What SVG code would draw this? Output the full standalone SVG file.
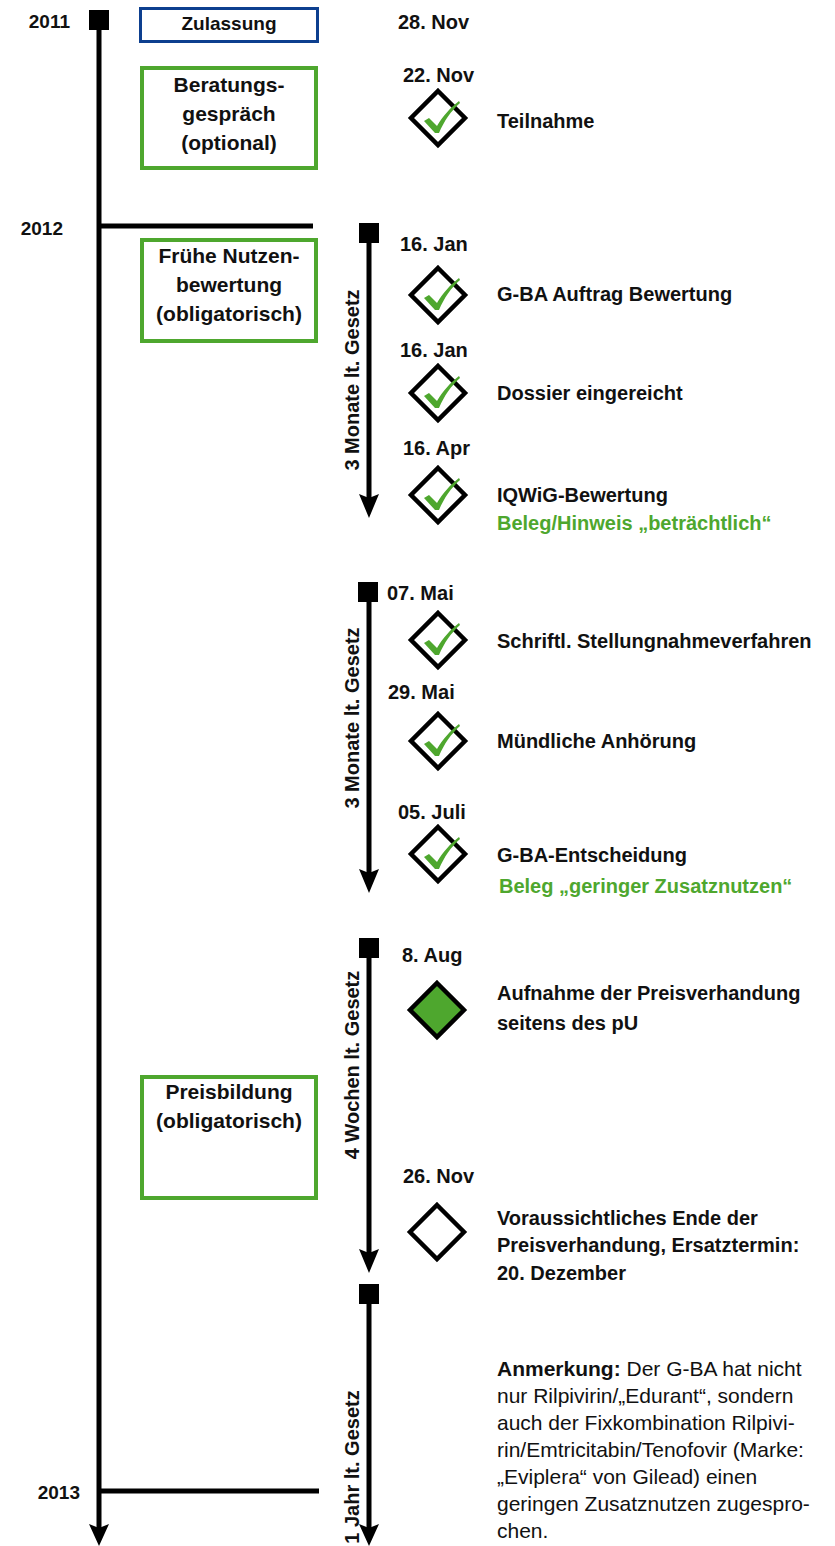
<svg xmlns="http://www.w3.org/2000/svg" xmlns:xlink="http://www.w3.org/1999/xlink" width="835" height="1546" viewBox="0 0 835 1546">
<style>
text{font-family:"Liberation Sans",Arial,sans-serif;fill:#111;}
.b{font-weight:bold;}
.yr{font-size:19px;font-weight:bold;text-anchor:end;}
.box{font-size:21px;font-weight:bold;text-anchor:middle;}
.dt{font-size:20px;font-weight:bold;}
.ds{font-size:20px;font-weight:bold;}
.gr{fill:#4ea72e;}
.rot{font-size:20px;font-weight:bold;text-anchor:middle;}
.note{font-size:21px;}
.ln{stroke:#000;stroke-width:5;fill:none;}
.gbox{fill:#fff;stroke:#4ea72e;stroke-width:4;}
.bbox{fill:#fff;stroke:#0d3f8f;stroke-width:3;}
.dia{fill:#fff;stroke:#000;stroke-width:4.5;}
</style>
<defs>
<g id="diamond"><polygon class="dia" points="0,-27 27,0 0,27 -27,0"/></g>
<g id="check"><path fill="#4ea72e" d="M-14,3 L-9,0 L-1,8 C5,-2 12,-10 21,-17 L22,-15 C13,-7 6,3 1,15 L-3,15 Z"/></g>
</defs>

<g id="connectors">
<rect x="89" y="10" width="20" height="20" fill="#000"/>
<line class="ln" x1="99" y1="20" x2="99" y2="1530"/>
<polygon points="89,1524 99,1528 109,1524 99,1546" fill="#000"/>
<line class="ln" x1="99" y1="226" x2="313" y2="226"/>
<line class="ln" x1="99" y1="1491" x2="319" y2="1491"/>

<rect x="359" y="223" width="20" height="20" fill="#000"/>
<line class="ln" x1="369" y1="233" x2="369" y2="500"/>
<polygon points="359,494 369,498 379,494 369,518" fill="#000"/>

<rect x="358" y="582" width="20" height="20" fill="#000"/>
<line class="ln" x1="369" y1="592" x2="369" y2="876"/>
<polygon points="359,869 369,873 379,869 369,893" fill="#000"/>

<rect x="359" y="938" width="20" height="20" fill="#000"/>
<line class="ln" x1="369" y1="948" x2="369" y2="1256"/>
<polygon points="359,1249 369,1253 379,1249 369,1273" fill="#000"/>

<rect x="359" y="1284" width="20" height="20" fill="#000"/>
<line class="ln" x1="369" y1="1294" x2="369" y2="1530"/>
<polygon points="359,1524 369,1528 379,1524 369,1546" fill="#000"/>
</g>

<g id="years">
<text class="yr" x="70" y="28">2011</text>
<text class="yr" x="63" y="235">2012</text>
<text class="yr" x="80" y="1499">2013</text>
</g>

<g id="zulassung">
<rect class="bbox" x="140.5" y="8.5" width="177" height="33"/>
<text x="229" y="30" style="font-size:19px;font-weight:bold;text-anchor:middle">Zulassung</text>
</g>

<g id="beratung">
<rect class="gbox" x="142" y="68" width="174" height="100"/>
<text class="box" x="229" y="92">Beratungs-</text>
<text class="box" x="229" y="121">gespräch</text>
<text class="box" x="229" y="150">(optional)</text>
</g>

<g id="nutzenbewertung">
<rect class="gbox" x="142" y="240" width="174" height="101"/>
<text class="box" x="229" y="263">Frühe Nutzen-</text>
<text class="box" x="229" y="292">bewertung</text>
<text class="box" x="229" y="321">(obligatorisch)</text>
</g>

<g id="preisbildung">
<rect class="gbox" x="142" y="1077" width="174" height="121"/>
<text class="box" x="229" y="1099">Preisbildung</text>
<text class="box" x="229" y="1128">(obligatorisch)</text>
</g>

<g id="period-labels">
<text class="rot" transform="translate(359,380) rotate(-90)">3 Monate lt. Gesetz</text>
<text class="rot" transform="translate(359,718) rotate(-90)">3 Monate lt. Gesetz</text>
<text class="rot" transform="translate(359,1065) rotate(-90)">4 Wochen lt. Gesetz</text>
<text class="rot" transform="translate(359,1467) rotate(-90)">1 Jahr lt. Gesetz</text>
</g>

<g id="ev-zulassung">
<text class="dt" x="398" y="29">28. Nov</text>
</g>

<g id="ev-teilnahme">
<text class="dt" x="403" y="82">22. Nov</text>
<use xlink:href="#diamond" x="438" y="118"/>
<use xlink:href="#check" x="438" y="118"/>
<text class="ds" x="497" y="128">Teilnahme</text>
</g>

<g id="ev-auftrag">
<text class="dt" x="400" y="251">16. Jan</text>
<use xlink:href="#diamond" x="438" y="295"/>
<use xlink:href="#check" x="438" y="295"/>
<text class="ds" x="497" y="301">G-BA Auftrag Bewertung</text>
</g>

<g id="ev-dossier">
<text class="dt" x="400" y="357">16. Jan</text>
<use xlink:href="#diamond" x="438" y="393"/>
<use xlink:href="#check" x="438" y="393"/>
<text class="ds" x="497" y="400">Dossier eingereicht</text>
</g>

<g id="ev-iqwig">
<text class="dt" x="403" y="455">16. Apr</text>
<use xlink:href="#diamond" x="438" y="495"/>
<use xlink:href="#check" x="438" y="495"/>
<text class="ds" x="497" y="502">IQWiG-Bewertung</text>
<text class="ds gr" x="497" y="530">Beleg/Hinweis „beträchtlich“</text>
</g>

<g id="ev-stellungnahme">
<text class="dt" x="387" y="600">07. Mai</text>
<use xlink:href="#diamond" x="438" y="640"/>
<use xlink:href="#check" x="438" y="640"/>
<text class="ds" x="497" y="648">Schriftl. Stellungnahmeverfahren</text>
</g>

<g id="ev-anhoerung">
<text class="dt" x="388" y="699">29. Mai</text>
<use xlink:href="#diamond" x="438" y="741"/>
<use xlink:href="#check" x="438" y="741"/>
<text class="ds" x="497" y="748">Mündliche Anhörung</text>
</g>

<g id="ev-entscheidung">
<text class="dt" x="398" y="819">05. Juli</text>
<use xlink:href="#diamond" x="438" y="854"/>
<use xlink:href="#check" x="438" y="854"/>
<text class="ds" x="497" y="862">G-BA-Entscheidung</text>
<text class="ds gr" x="499" y="893">Beleg „geringer Zusatznutzen“</text>
</g>

<g id="ev-aufnahme">
<text class="dt" x="402" y="962">8. Aug</text>
<polygon points="437,983 464,1010 437,1037 410,1010" fill="#4ea72e" stroke="#000" stroke-width="4.5"/>
<text class="ds" x="497" y="1000">Aufnahme der Preisverhandung</text>
<text class="ds" x="497" y="1030">seitens des pU</text>
</g>

<g id="ev-ende">
<text class="dt" x="403" y="1183">26. Nov</text>
<use xlink:href="#diamond" x="437" y="1232"/>
<text class="ds" x="497" y="1225">Voraussichtliches Ende der</text>
<text class="ds" x="497" y="1252">Preisverhandung, Ersatztermin:</text>
<text class="ds" x="497" y="1280">20. Dezember</text>
</g>

<g id="note">
<text class="note" x="497" y="1376"><tspan class="b">Anmerkung:</tspan> Der G-BA hat nicht</text>
<text class="note" x="497" y="1403">nur Rilpivirin/„Edurant“, sondern</text>
<text class="note" x="497" y="1430">auch der Fixkombination Rilpivi-</text>
<text class="note" x="497" y="1457">rin/Emtricitabin/Tenofovir (Marke:</text>
<text class="note" x="497" y="1484">„Eviplera“ von Gilead) einen</text>
<text class="note" x="497" y="1511">geringen Zusatznutzen zugespro-</text>
<text class="note" x="497" y="1538">chen.</text>
</g>
</svg>
